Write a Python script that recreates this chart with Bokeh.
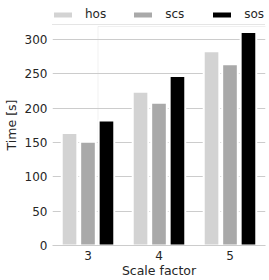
from bokeh.plotting import figure
from bokeh.models import (ColumnDataSource, FactorRange, Range1d, Legend, LegendItem,
                          FixedTicker, BoxAnnotation)
from bokeh.transform import dodge
from bokeh.embed import file_html
from bokeh.resources import INLINE

categories = ["3", "4", "5"]
hos = [164, 224, 283]
scs = [151, 208, 264]
sos = [182, 247, 311]
series = ["hos", "scs", "sos"]
colors = ["#d3d3d3", "#a9a9a9", "#000000"]
y_ticks = [0, 50, 100, 150, 200, 250, 300]
y_top = 319

src = ColumnDataSource(dict(x=categories, hos=hos, scs=scs, sos=sos))

TXT = "#262626"
GRID = "#cccccc"

FRAME_H = 241      # includes a strip above the axes area for the legend
AXES_H = 219

p = figure(x_range=FactorRange(*categories, range_padding=0),
           y_range=Range1d(0, y_top * FRAME_H / AXES_H),
           frame_width=213, frame_height=FRAME_H,
           output_backend="svg", toolbar_location=None,
           min_border_left=45, min_border_right=3, min_border_top=4, min_border_bottom=30)
p.x_range.range_padding = 0
p.x_range.factor_padding = 0

offsets = [-0.26, 0.0, 0.26]
renderers = []
for name, col, off in zip(series, colors, offsets):
    r = p.vbar(x=dodge("x", off, range=p.x_range), top=name, width=0.22, source=src,
               fill_color=col, line_color="white", line_width=2)
    renderers.append(r)

p.yaxis.ticker = FixedTicker(ticks=y_ticks)
for ax in (p.xaxis[0], p.yaxis[0]):
    ax.major_tick_line_color = None
    ax.minor_tick_line_color = None
    ax.major_tick_out = 0
    ax.major_tick_in = 0
    ax.minor_tick_out = 0
    ax.minor_tick_in = 0
    ax.major_label_text_font = "DejaVu Sans"
    ax.major_label_text_font_size = "12px"
    ax.major_label_text_color = TXT
    ax.axis_label_text_font = "DejaVu Sans"
    ax.axis_label_text_font_size = "12.5px"
    ax.axis_label_text_font_style = "normal"
    ax.axis_label_text_color = TXT
p.xaxis.axis_line_color = GRID
p.yaxis.axis_line_color = None

p.xaxis.axis_label = "Scale factor"
p.yaxis.axis_label = "Time [s]"
p.xaxis.major_label_standoff = 5
p.xaxis.axis_label_standoff = 0
p.yaxis.major_label_standoff = 5
p.yaxis.axis_label_standoff = 3

p.xgrid.grid_line_color = None
p.ygrid.grid_line_color = GRID
p.ygrid.grid_line_width = 1
p.outline_line_color = None
p.background_fill_color = "white"
p.border_fill_color = "white"

# axes box (spines) covering the data area only
box = BoxAnnotation(bottom=0, top=y_top, left=45.5, right=257.5,
                    left_units="screen", right_units="screen",
                    fill_alpha=0, line_color=GRID, line_width=1, level="underlay")
p.add_layout(box)

legend = Legend(items=[LegendItem(label=n, renderers=[r]) for n, r in zip(series, renderers)],
                orientation="horizontal", location=(-6, AXES_H + 1),
                glyph_width=25, glyph_height=9, label_standoff=10, spacing=24,
                padding=3, margin=0,
                label_text_font="DejaVu Sans", label_text_font_size="12px",
                label_text_color=TXT, border_line_color=GRID, border_line_width=1,
                background_fill_color="white", background_fill_alpha=0.8)
p.add_layout(legend, "center")

open("out.html", "w").write(file_html(p, INLINE))
